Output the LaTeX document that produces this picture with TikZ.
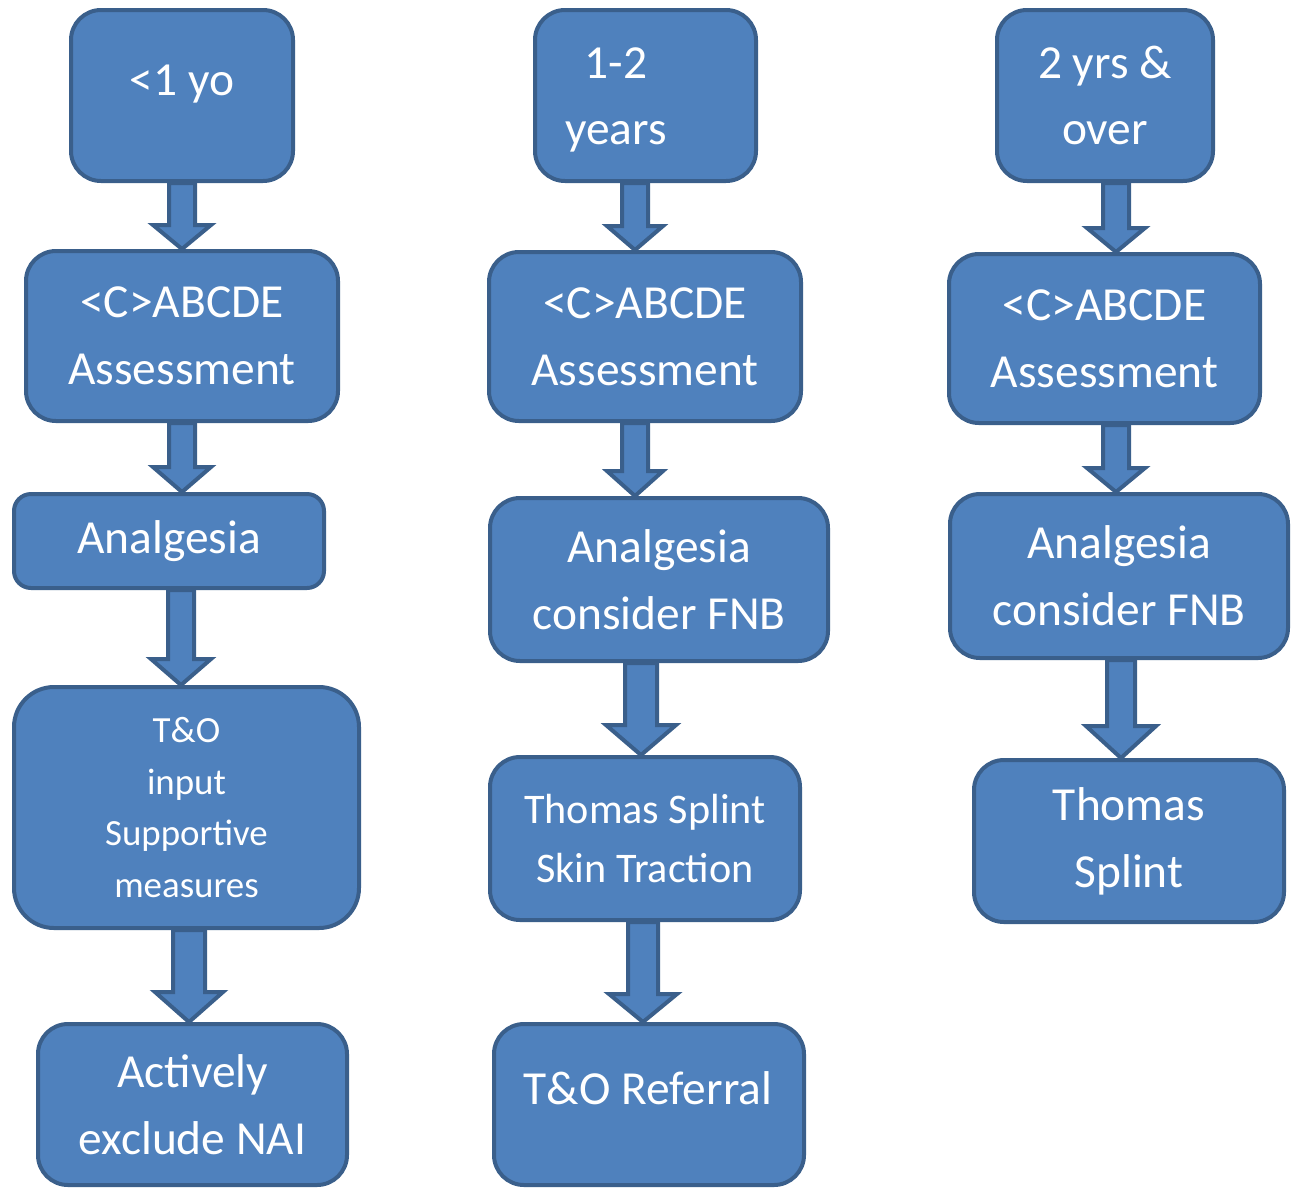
\documentclass[tikz,border=0pt]{standalone}
\usepackage{fontspec}
\setmainfont{Carlito}
\usepackage{tikz}
\usetikzlibrary{positioning, calc}

\definecolor{boxblue}{HTML}{4F81BD}
\definecolor{boxedge}{HTML}{3A5F8B}
\newdimen\px \px=0.02cm

\tikzset{
  box/.style={draw=boxedge, fill=boxblue, line width=4\px, rounded corners=30\px, text=white, align=center, inner sep=0pt, font=\fontsize{27}{38}\selectfont},
  txt/.style={text=white, align=center, inner sep=0pt, font=\fontsize{27}{38}\selectfont},
  arr/.style={draw=boxedge, fill=boxblue, line width=4\px, line join=miter}
}

% from, to, x, shaft half width, head half width, head length
\newcommand{\fatarrow}[6]{%
  \draw[arr] (#3-#4,0 |- #1.south) -- ($(#3,0 |- #2.north)+(-#4,-#6)$) -- ++(#4-#5,0)
    -- (#3,0 |- #2.north) -- ($(#3,0 |- #2.north)+(#5,-#6)$) -- ++(#4-#5,0)
    -- (#3+#4,0 |- #1.south) -- cycle;}

\begin{document}
\begin{tikzpicture}[x=0.02cm, y=-0.02cm]
\useasboundingbox (0,0) rectangle (1295,1188);

\node[box, minimum width=222\px, minimum height=171\px] (a1) at (182,95.5) {};
\node[txt, anchor=base] (a1t) at (182,95) {<1 yo};
\node[box, minimum width=312\px, minimum height=170\px] (a2) at (182,336) {<C>ABCDE\\Assessment};
\node[box, minimum width=310\px, minimum height=94\px, rounded corners=17\px] (a3) at (169,541) {Analgesia};
\node[box, minimum width=345\px, minimum height=241\px, rounded corners=40\px, font=\fontsize{21}{29.5}\selectfont] (a4) at (186.5,807.5) {T\&O\\input\\Supportive\\measures};
\node[box, minimum width=309\px, minimum height=161\px] (a5) at (192.5,1104.5) {Actively\\exclude NAI};

\node[box, minimum width=221\px, minimum height=171\px] (b1) at (645.5,95.5) {};
\node[txt] (b1t) at (616,100) {1-2\\years};
\node[box, minimum width=312\px, minimum height=169\px] (b2) at (645,336.5) {<C>ABCDE\\Assessment};
\node[box, minimum width=338\px, minimum height=163\px] (b3) at (659,579.5) {Analgesia\\consider FNB};
\node[box, minimum width=310\px, minimum height=163\px, font=\fontsize{24}{34}\selectfont] (b4) at (645,838.5) {Thomas Splint\\Skin Traction};
\node[box, minimum width=310\px, minimum height=161\px] (b5) at (649,1104.5) {};
\node[txt, anchor=base] (b5t) at (648,1104) {T\&O Referral};

\node[box, minimum width=216\px, minimum height=171\px] (c1) at (1105,95.5) {2 yrs \&\\over};
\node[box, minimum width=311\px, minimum height=169\px] (c2) at (1104.5,338.5) {<C>ABCDE\\Assessment};
\node[box, minimum width=338\px, minimum height=164\px] (c3) at (1119,576) {Analgesia\\consider FNB};
\node[box, minimum width=310\px, minimum height=162\px] (c4) at (1129,841) {Thomas\\Splint};

\fatarrow{a1}{a2}{182}{13}{29}{24}
\fatarrow{a2}{a3}{182}{13}{29}{25}
\fatarrow{a3}{a4}{181}{13}{30}{26}
\fatarrow{a4}{a5}{189}{16}{34}{30}
\fatarrow{b1}{b2}{635}{13}{28}{24}
\fatarrow{b2}{b3}{635}{13}{28}{25}
\fatarrow{b3}{b4}{641}{16}{35}{30}
\fatarrow{b4}{b5}{643}{15}{34}{28}
\fatarrow{c1}{c2}{1116}{13}{29}{24}
\fatarrow{c2}{c3}{1116}{13}{29}{24}
\fatarrow{c3}{c4}{1121}{14}{35}{32}
\end{tikzpicture}
\end{document}
